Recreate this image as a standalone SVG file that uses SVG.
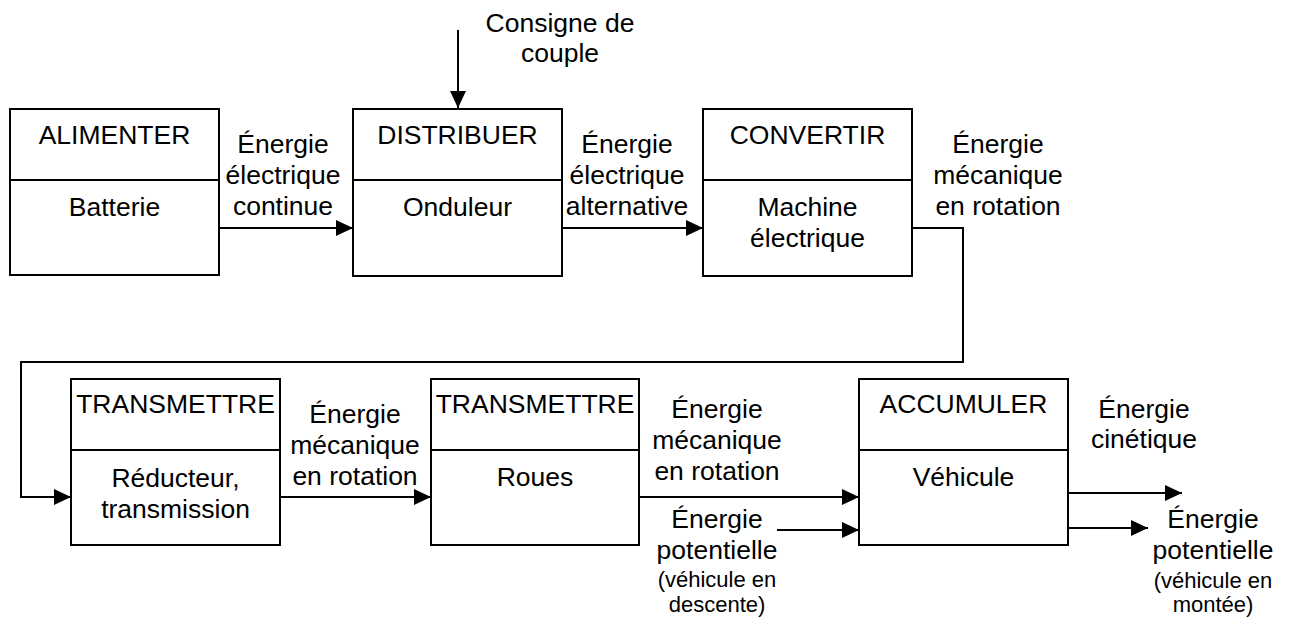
<svg xmlns="http://www.w3.org/2000/svg" width="1292" height="619" viewBox="0 0 1292 619">
<style>
text{font-family:"Liberation Sans",Arial,sans-serif;font-size:26.5px;fill:#000;text-anchor:middle}
.s{font-size:22px}
.box{fill:#fff;stroke:#000;stroke-width:2}
.ln{fill:none;stroke:#000;stroke-width:2}
</style>
<defs>
<marker id="ah" markerUnits="userSpaceOnUse" markerWidth="17" markerHeight="16" refX="17" refY="8" orient="auto">
<path d="M0,0 L17,8 L0,16 Z" fill="#000"/>
</marker>
</defs>
<rect width="1292" height="619" fill="#fff"/>
<g id="connectors">
<line class="ln" x1="458" y1="30" x2="458" y2="108" marker-end="url(#ah)"/>
<line class="ln" x1="219" y1="228" x2="353" y2="228" marker-end="url(#ah)"/>
<line class="ln" x1="562" y1="228" x2="703" y2="228" marker-end="url(#ah)"/>
<polyline class="ln" points="912,228 963,228 963,362 21,362 21,497 71,497" marker-end="url(#ah)"/>
<line class="ln" x1="280" y1="497" x2="431" y2="497" marker-end="url(#ah)"/>
<line class="ln" x1="639" y1="497" x2="859" y2="497" marker-end="url(#ah)"/>
<line class="ln" x1="777" y1="530" x2="859" y2="530" marker-end="url(#ah)"/>
<line class="ln" x1="1068" y1="493" x2="1182" y2="493" marker-end="url(#ah)"/>
<line class="ln" x1="1068" y1="528" x2="1148" y2="528" marker-end="url(#ah)"/>
<text x="560" y="32">Consigne de</text>
<text x="560" y="62">couple</text>
<text x="283" y="153">Énergie</text>
<text x="283" y="184">électrique</text>
<text x="283" y="215">continue</text>
<text x="627" y="153">Énergie</text>
<text x="627" y="184">électrique</text>
<text x="627" y="215">alternative</text>
<text x="998" y="153">Énergie</text>
<text x="998" y="184">mécanique</text>
<text x="998" y="215">en rotation</text>
<text x="355" y="423">Énergie</text>
<text x="355" y="454">mécanique</text>
<text x="355" y="485">en rotation</text>
<text x="717" y="418">Énergie</text>
<text x="717" y="449">mécanique</text>
<text x="717" y="480">en rotation</text>
<text x="717" y="528">Énergie</text>
<text x="717" y="559">potentielle</text>
<text class="s" x="717" y="587">(véhicule en</text>
<text class="s" x="717" y="612">descente)</text>
<text x="1144" y="418">Énergie</text>
<text x="1144" y="448">cinétique</text>
<text x="1213" y="528">Énergie</text>
<text x="1213" y="559">potentielle</text>
<text class="s" x="1213" y="588">(véhicule en</text>
<text class="s" x="1213" y="612">montée)</text>
</g>
<g id="alimenter">
<rect class="box" x="10" y="109" width="209" height="166"/>
<line class="ln" x1="10" y1="180" x2="219" y2="180"/>
<text x="114.5" y="144">ALIMENTER</text>
<text x="114.5" y="216">Batterie</text>
</g>
<g id="distribuer">
<rect class="box" x="353" y="109" width="209" height="167"/>
<line class="ln" x1="353" y1="180" x2="562" y2="180"/>
<text x="457.5" y="144">DISTRIBUER</text>
<text x="457.5" y="216">Onduleur</text>
</g>
<g id="convertir">
<rect class="box" x="703" y="109" width="209" height="167"/>
<line class="ln" x1="703" y1="180" x2="912" y2="180"/>
<text x="807.5" y="144">CONVERTIR</text>
<text x="807.5" y="216">Machine</text>
<text x="807.5" y="247">électrique</text>
</g>
<g id="transmettre1">
<rect class="box" x="71" y="379" width="209" height="166"/>
<line class="ln" x1="71" y1="450" x2="280" y2="450"/>
<text x="175.5" y="413">TRANSMETTRE</text>
<text x="175.5" y="487">Réducteur,</text>
<text x="175.5" y="518">transmission</text>
</g>
<g id="transmettre2">
<rect class="box" x="431" y="379" width="208" height="166"/>
<line class="ln" x1="431" y1="450" x2="639" y2="450"/>
<text x="535" y="413">TRANSMETTRE</text>
<text x="535" y="486">Roues</text>
</g>
<g id="accumuler">
<rect class="box" x="859" y="379" width="209" height="166"/>
<line class="ln" x1="859" y1="450" x2="1068" y2="450"/>
<text x="963.5" y="413">ACCUMULER</text>
<text x="963.5" y="486">Véhicule</text>
</g>
</svg>
